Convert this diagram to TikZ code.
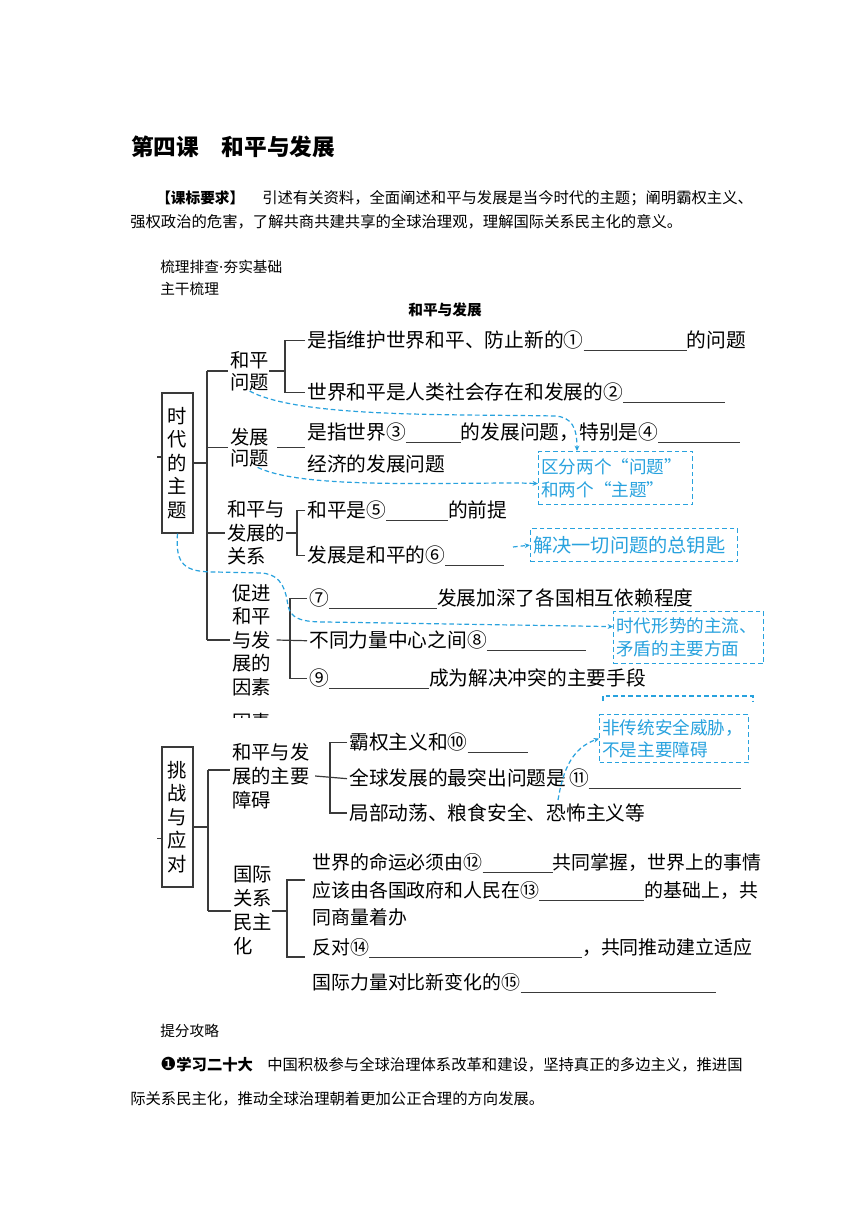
\documentclass[tikz,border=0pt]{standalone}
\usepackage{fontspec}
\setmainfont{Noto Sans CJK SC}
\newfontfamily\dejavu{DejaVu Sans}
\usetikzlibrary{arrows.meta}
\definecolor{inkgray}{RGB}{58,58,58}
\definecolor{penblue}{RGB}{40,162,222}
\newcommand\fillin[1]{\textcolor{inkgray}{\rule[-2.4pt]{0.75\dimexpr#1pt\relax}{0.7pt}}}
\tikzset{
  branch/.style={draw=inkgray,line width=0.9pt},
  plain/.style={inner sep=0pt,anchor=west,font=\fontsize{11.5}{14}\selectfont},
  lab/.style={inner sep=0pt,anchor=west,align=left,font=\fontsize{14.5}{17.6}\selectfont},
  txt/.style={inner xsep=1.5pt,inner ysep=0pt,anchor=base west,yshift=-5.6pt,font=\fontsize{14.8}{17}\selectfont},
  txtlow/.style={txt,yshift=-5.4pt,font=\fontsize{14.2}{17}\selectfont},
  topicbox/.style={draw=inkgray,line width=0.9pt,inner sep=0pt,minimum width=23.25pt,
    minimum height=105pt,align=center,font=\fontsize{14.5}{17.6}\selectfont},
  memo/.style={draw=penblue,line width=0.9pt,dash pattern=on 3.5pt off 2.2pt},
  memoarrow/.style={memo,-{Stealth[length=4pt,width=3.6pt]}},
  memobox/.style={memo,anchor=north west,inner xsep=2pt,inner ysep=0pt,align=left,text=penblue,
    font=\fontsize{13.2}{17}\selectfont},
}
\begin{document}
\begin{tikzpicture}[x=0.75pt,y=-0.75pt]
\fill[white] (0,0) rectangle (860,1216);
\useasboundingbox (0,0) rectangle (860,1216);

% header
\node[plain,font=\fontsize{17}{20}\selectfont\bfseries] (title) at (131,147) {第四课\hspace{1em}和平与发展};
\node[plain,font=\fontsize{11}{14}\selectfont\bfseries] (req) at (156,198) {【课标要求】};
\node[plain] (req1) at (262,198) {引述有关资料，全面阐述和平与发展是当今时代的主题；阐明霸权主义、};
\node[plain] (req2) at (130,222) {强权政治的危害，了解共商共建共享的全球治理观，理解国际关系民主化的意义。};
\node[plain,font=\fontsize{11}{14}\selectfont] (sec1) at (160,267) {梳理排查{\dejavu ·}夯实基础};
\node[plain,font=\fontsize{11}{14}\selectfont] (sec2) at (160,289) {主干梳理};
\node[inner sep=0pt,font=\fontsize{11}{14}\selectfont\bfseries] (maptitle) at (445,310) {和平与发展};

% 时代的主题
\node[topicbox] (zt) at (177.5,463) {时\\代\\的\\主\\题};
\node[lab,font=\fontsize{14.5}{16.5}\selectfont] (q1) at (230,371) {和平\\问题};
\node[lab,font=\fontsize{14.5}{16}\selectfont] (q2) at (230,447.5) {发展\\问题};
\node[lab] (q3) at (227,533) {和平与\\发展的\\关系};
\node[lab] (q4) at (232,640) {促进\\和平\\与发\\展的\\因素};

\node[txt] (a1) at (305,340) {是指维护世界和平、防止新的①\fillin{103}的问题};
\node[txt] (a2) at (305,392) {世界和平是人类社会存在和发展的②\fillin{102}};
\node[txt] (a3) at (305,432) {是指世界③\fillin{55}的发展问题，特别是④\fillin{82}};
\node[txt] (a4) at (305,464) {经济的发展问题};
\node[txt] (a5) at (305,510) {和平是⑤\fillin{62}的前提};
\node[txt] (a6) at (305,555) {发展是和平的⑥\fillin{59}};
\node[txt] (a7) at (307,598) {⑦\fillin{108}发展加深了各国相互依赖程度};
\node[txt] (a8) at (307,640) {不同力量中心之间⑧\fillin{99}};
\node[txt] (a9) at (307,678) {⑨\fillin{100}成为解决冲突的主要手段};

\coordinate (tr1) at (207,0);
\coordinate (k1) at (285,0);
\coordinate (k3) at (297,0);
\coordinate (k4) at (290,0);
\draw[branch] (zt.east) -- (zt.east -| tr1);
\draw[branch] ([yshift=4.5pt]zt.west) -- ++(-4,0);
\draw[branch] (q1.west -| tr1) -- (q4.west -| tr1);
\foreach \n in {q1,q2,q3,q4}
  \draw[branch] (\n.west -| tr1) -- ([xshift=-1.5pt]\n.west);
\draw[branch] (q1.east) -- (q1.east -| k1);
\draw[branch] (a1.west) -- (a1.west -| k1) -- (a2.west -| k1) -- (a2.west);
\draw[branch] ([xshift=6pt]q2.east) -- (q2.east -| a3.west);
\draw[branch] (q3.east) -- (q3.east -| k3);
\draw[branch] (a5.west) -- (a5.west -| k3) -- (a6.west -| k3) -- (a6.west);
\draw[branch] ([xshift=4pt]q4.east) -- (a8.west);
\draw[branch] (a7.west) -- (a7.west -| k4) -- (a9.west -| k4) -- (a9.west);

% cut-off piece under the first part
\begin{scope}
  \clip (225,710) rectangle (280,717);
  \node[lab] (ghost) at (232,722) {因素};
\end{scope}

% 挑战与应对
\node[topicbox] (zd) at (177.5,817) {挑\\战\\与\\应\\对};
\node[lab,font=\fontsize{14.5}{18}\selectfont] (p1) at (232,776) {和平与发\\展的主要\\障碍};
\node[lab,font=\fontsize{14.5}{18}\selectfont] (p2) at (233,911) {国际\\关系\\民主\\化};

\node[txt] (b1) at (347,742) {霸权主义和⑩\fillin{60}};
\node[txt] (b2) at (347,778) {全球发展的最突出问题是\hspace{2pt}⑪\fillin{152}};
\node[txt] (b3) at (347,813) {局部动荡、粮食安全、恐怖主义等};
\node[txtlow] (c1) at (310,855) {世界的命运必须由⑫\fillin{70}共同掌握，世界上的事情};
\node[txtlow] (c2) at (310,883) {应该由各国政府和人民在⑬\fillin{105}的基础上，共};
\node[txtlow] (c3) at (310,910) {同商量着办};
\node[txtlow] (c4) at (310,940) {反对⑭\fillin{213}，共同推动建立适应};
\node[txtlow] (c5) at (310,975) {国际力量对比新变化的⑮\fillin{195}};

\coordinate (tr2) at (208,0);
\coordinate (k5) at (330,0);
\coordinate (k6) at (287,0);
\coordinate (g1) at (305,880);
\coordinate (g2) at (305,957);
\draw[branch] ([yshift=-7.5pt]zd.east) -- ([yshift=-7.5pt]zd.east -| tr2);
\draw[branch] ([yshift=-16pt]zd.west) -- ++(-4,0);
\draw[branch] ([yshift=4.5pt]p1.west -| tr2) -- (p2.west -| tr2);
\draw[branch] ([yshift=4.5pt]p1.west -| tr2) -- ([xshift=-1.5pt,yshift=4.5pt]p1.west);
\draw[branch] (p2.west -| tr2) -- ([xshift=-1.5pt]p2.west);
\draw[branch] ([xshift=4pt]p1.east) -- (b2.west);
\draw[branch] (b1.west) -- (b1.west -| k5) -- (b3.west -| k5) -- (b3.west);
\draw[branch] (p2.east) -- (p2.east -| k6);
\draw[branch] (g1) -- (g1 -| k6) -- (g2 -| k6) -- (g2);

% handwritten notes
\node[memobox,minimum width=115.5pt,minimum height=39.75pt,text width=111.5pt] (boxA) at (538,451) {区分两个“问题”\\和两个“主题”};
\node[memobox,minimum width=155.25pt,minimum height=24.75pt,text width=151.25pt,font=\fontsize{14.4}{17}\selectfont] (boxB) at (530,528) {解决一切问题的总钥匙};
\node[memobox,minimum width=112.5pt,minimum height=39pt,text width=108.5pt] (boxC) at (613,611) {时代形势的主流、\\矛盾的主要方面};
\node[memobox,minimum width=111.75pt,minimum height=36pt,text width=107.75pt] (boxD) at (599,714) {非传统安全威胁，\\不是主要障碍};
\draw[memo] (603,701) -- (603,696) -- (753,696) -- (753,701);

\coordinate (s6) at (513,547);
\coordinate (s11) at (558,800);
\draw[memoarrow] (q1.south) .. controls (300,418) and (450,414) .. (555,416)
  .. controls (572,417) and (577,428) .. ([xshift=29.25pt]boxA.north west);
\draw[memoarrow] ([xshift=6pt]q2.south) .. controls (300,488) and (420,483) .. (520,483) -- ([yshift=-4.1pt]boxA.west);
\draw[memoarrow] (zt.south) .. controls (175,565) and (185,572) .. (215,572) -- (262,573)
  .. controls (283,575) and (286,592) .. (288,606) .. controls (291,618) and (300,622) .. (325,622)
  -- ([yshift=8.25pt]boxC.west);
\draw[memoarrow] (s6) -- (boxB.west);
\draw[memoarrow] (s11) .. controls (563,770) and (572,748) .. (boxD.west);

% tips
\node[plain,font=\fontsize{11}{14}\selectfont] (tips) at (160,1031) {提分攻略};
\node[plain] (tip1) at (160,1065) {{\dejavu\fontsize{13.5}{14}\selectfont ❶}\textbf{学习二十大}};
\node[plain] (tip1b) at (267,1065) {中国积极参与全球治理体系改革和建设，坚持真正的多边主义，推进国};
\node[plain] (tip2) at (130,1099) {际关系民主化，推动全球治理朝着更加公正合理的方向发展。};
\end{tikzpicture}
\end{document}
